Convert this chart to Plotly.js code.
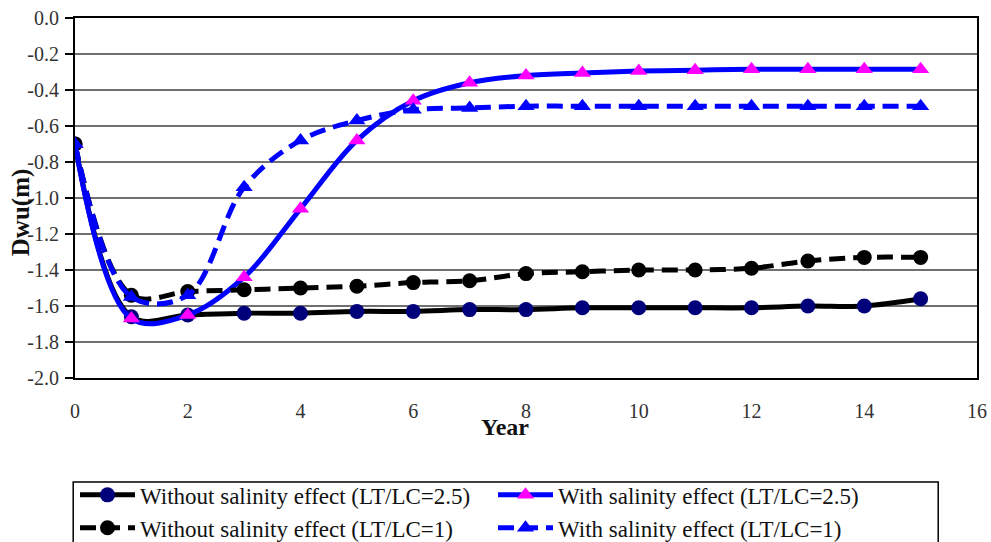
<!DOCTYPE html>
<html>
<head>
<meta charset="utf-8">
<script src="https://cdn.plot.ly/plotly-3.0.1.min.js"></script>
<style>html,body{margin:0;padding:0;background:#fff;}#chart{width:991px;height:542px;}</style>
</head>
<body>
<div id="chart"></div>
<script>
var years = [0,1,2,3,4,5,6,7,8,9,10,11,12,13,14,15];
var withoutLT25 = [-0.70,-1.66,-1.65,-1.64,-1.64,-1.63,-1.63,-1.62,-1.62,-1.61,-1.61,-1.61,-1.61,-1.60,-1.60,-1.56];
var withLT25 = [-0.70,-1.67,-1.65,-1.44,-1.06,-0.68,-0.46,-0.36,-0.32,-0.305,-0.295,-0.29,-0.285,-0.285,-0.285,-0.285];
var withoutLT1 = [-0.70,-1.54,-1.52,-1.51,-1.50,-1.49,-1.47,-1.46,-1.42,-1.41,-1.40,-1.40,-1.39,-1.35,-1.33,-1.33];
var withLT1 = [-0.70,-1.55,-1.54,-0.94,-0.68,-0.57,-0.51,-0.50,-0.49,-0.49,-0.49,-0.49,-0.49,-0.49,-0.49,-0.49];
var seriesNames = ['Without salinity effect (LT/LC=2.5)','With salinity effect (LT/LC=2.5)','Without salinity effect (LT/LC=1)','With salinity effect (LT/LC=1)'];
var yTicks = [0,-0.2,-0.4,-0.6,-0.8,-1.0,-1.2,-1.4,-1.6,-1.8,-2.0];
var yTickLabels = ['0.0','-0.2','-0.4','-0.6','-0.8','-1.0','-1.2','-1.4','-1.6','-1.8','-2.0'];
var xTicks = [0,2,4,6,8,10,12,14,16];

var serif = '"Liberation Serif", "Times New Roman", "DejaVu Serif", serif';
var traces = [
  {x: years, y: withoutLT25, name: seriesNames[0], mode: 'lines+markers',
   line: {color: '#000000', width: 5, shape: 'spline', smoothing: 1},
   marker: {color: '#00007a', size: 15, symbol: 'circle'}},
  {x: years, y: withLT25, name: seriesNames[1], mode: 'lines+markers',
   line: {color: '#0000ff', width: 5, shape: 'spline', smoothing: 1},
   marker: {color: '#ff00ff', size: 15, symbol: 'triangle-up'}},
  {x: years, y: withoutLT1, name: seriesNames[2], mode: 'lines+markers',
   line: {color: '#000000', width: 5, shape: 'spline', smoothing: 1, dash: '16px,8px'},
   marker: {color: '#000000', size: 15, symbol: 'circle'}},
  {x: years, y: withLT1, name: seriesNames[3], mode: 'lines+markers',
   line: {color: '#0000ff', width: 5, shape: 'spline', smoothing: 1, dash: '16px,8px'},
   marker: {color: '#0000ff', size: 15, symbol: 'triangle-up'}}
];

var layout = {
  width: 991, height: 542,
  margin: {l: 75, r: 14, t: 18, b: 164, autoexpand: false},
  paper_bgcolor: '#ffffff', plot_bgcolor: '#ffffff',
  showlegend: true,
  font: {family: serif, color: '#222222', size: 20},
  xaxis: {range: [0, 16], tickvals: xTicks, ticks: '', showgrid: false, zeroline: false,
          showline: true, linecolor: '#000000', linewidth: 2, mirror: true,
          tickfont: {family: serif, size: 20, color: '#333333'}, ticklabelstandoff: 14},
  yaxis: {range: [-2.0, 0.0], tickvals: yTicks, ticktext: yTickLabels, ticks: 'outside', ticklen: 8,
          tickcolor: '#000000', tickwidth: 1.5,
          showgrid: true, gridcolor: '#707070', gridwidth: 1.5, zeroline: false,
          showline: true, linecolor: '#000000', linewidth: 2, mirror: true,
          tickfont: {family: serif, size: 20, color: '#333333'}, ticklabelstandoff: 2},
  shapes: [
    {type: 'line', xref: 'paper', yref: 'y', x0: 0, x1: 1, y0: -0.4, y1: -0.4,
     line: {color: '#000000', width: 2}, layer: 'below'},
    {type: 'rect', xref: 'paper', yref: 'paper', x0: -0.002, x1: 0.957, y0: -0.2889, y1: -0.52,
     line: {color: '#000000', width: 1.5}, fillcolor: 'rgba(0,0,0,0)'}
  ],
  annotations: [
    {text: '<b>Dwu(m)</b>', xref: 'paper', yref: 'paper', x: -0.059, y: 0.46, xanchor: 'center', yanchor: 'middle',
     textangle: -90, showarrow: false, font: {family: serif, size: 25, color: '#111111'}},
    {text: '<b>Year</b>', xref: 'paper', yref: 'paper', x: 0.477, y: -0.137, xanchor: 'center', yanchor: 'middle',
     showarrow: false, font: {family: serif, size: 24, color: '#111111'}}
  ],
  legend: {orientation: 'h', x: 0, xanchor: 'left', y: -0.265, yanchor: 'top',
           borderwidth: 0, bgcolor: 'rgba(0,0,0,0)',
           entrywidth: 348, entrywidthmode: 'pixels', itemwidth: 55,
           font: {family: serif, size: 23, color: '#111111'}, tracegroupgap: 0}
};

Plotly.newPlot('chart', traces, layout, {displayModeBar: false, staticPlot: true});
</script>
</body>
</html>
